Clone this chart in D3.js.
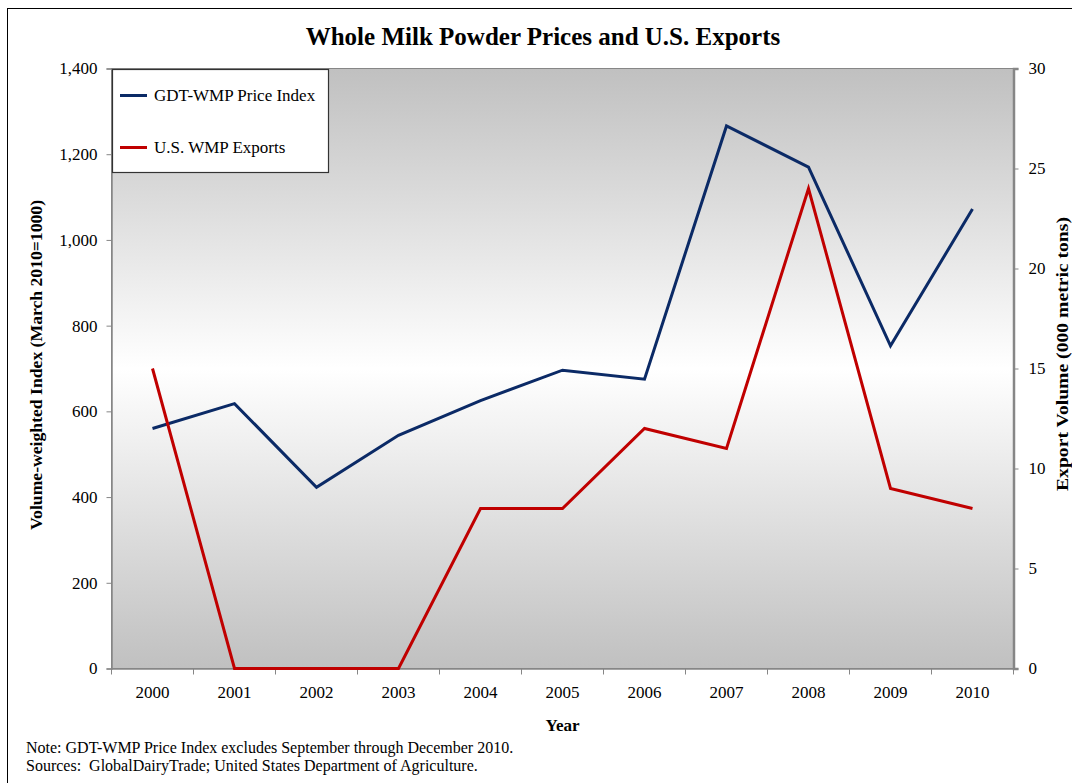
<!DOCTYPE html>
<html>
<head>
<meta charset="utf-8">
<script src="https://cdn.jsdelivr.net/npm/d3@7"></script>
<style>
  html, body { margin: 0; padding: 0; background: #fff; }
  svg { display: block; }
  text { font-family: "Liberation Serif", "Times New Roman", serif; fill: #000; }
</style>
</head>
<body>
<svg id="chart" width="1072" height="783"></svg>
<script>
// Annual values, 2000-2010
const years = ["2000","2001","2002","2003","2004","2005","2006","2007","2008","2009","2010"];
const priceIndex = [560, 618, 423, 544, 625, 696, 675, 1266, 1170, 753, 1072];
const exportVolume = [15, 0, 0, 0, 8, 8, 12, 11, 24, 9, 8];
const leftTicks = [0, 200, 400, 600, 800, 1000, 1200, 1400];
const rightTicks = [0, 5, 10, 15, 20, 25, 30];
const seriesNames = ["GDT-WMP Price Index", "U.S. WMP Exports"];

const svg = d3.select("#chart");
const plot = { left: 111.5, right: 1013.5, top: 68.5, bottom: 668.5 };
const serif = '"Liberation Serif", "Times New Roman", serif';

// Outer chart frame
svg.append("rect")
  .attr("x", 7.5).attr("y", 8.5).attr("width", 1080).attr("height", 800)
  .attr("fill", "#fff").attr("stroke", "#000").attr("stroke-width", 1);

// Plot background: grey at the edges, white through the middle
const defs = svg.append("defs");
const grad = defs.append("linearGradient").attr("id", "plotBg")
  .attr("x1", 0).attr("y1", 0).attr("x2", 0).attr("y2", 1);
grad.append("stop").attr("offset", "0%").attr("stop-color", "#c0c0c0");
grad.append("stop").attr("offset", "50%").attr("stop-color", "#ffffff");
grad.append("stop").attr("offset", "100%").attr("stop-color", "#c0c0c0");

svg.append("rect")
  .attr("x", plot.left).attr("y", plot.top)
  .attr("width", plot.right - plot.left).attr("height", plot.bottom - plot.top)
  .attr("fill", "url(#plotBg)").attr("stroke", "#868686").attr("stroke-width", 1);

// Scales
const x = d3.scaleBand().domain(years).range([plot.left, plot.right]).paddingInner(0).paddingOuter(0);
const yL = d3.scaleLinear().domain([0, 1400]).range([plot.bottom, plot.top]);
const yR = d3.scaleLinear().domain([0, 30]).range([plot.bottom, plot.top]);
const cx = d => x(d) + x.bandwidth() / 2;

// Left axis
const gL = svg.append("g").attr("transform", `translate(${plot.left},0)`)
  .call(d3.axisLeft(yL).tickValues(leftTicks).tickFormat(d3.format(",")).tickSize(5).tickPadding(9));
// Right axis
const gR = svg.append("g").attr("transform", `translate(${plot.right},0)`)
  .call(d3.axisRight(yR).tickValues(rightTicks).tickSize(5).tickPadding(10));
// Bottom axis: ticks at category boundaries, labels centred in each band
const gB = svg.append("g").attr("transform", `translate(0,${plot.bottom})`)
  .call(d3.axisBottom(x).tickSize(0).tickPadding(24));
gB.selectAll(".tick").append("line")
  .attr("x1", -x.bandwidth() / 2).attr("x2", -x.bandwidth() / 2)
  .attr("y1", 0).attr("y2", 6);
gB.append("line").attr("x1", plot.right).attr("x2", plot.right).attr("y1", 0).attr("y2", 6);

[gL, gR, gB].forEach(g => {
  g.attr("font-family", serif);
  g.selectAll("path.domain").attr("stroke", "#868686").attr("stroke-width", 1.5);
  g.selectAll("line").attr("stroke", "#868686").attr("stroke-width", 1);
  g.selectAll("text").style("font-family", serif)
    .style("font-size", "17px").attr("fill", "#000");
});
gR.select("path.domain").attr("stroke-width", 2.5);
gB.selectAll(".tick text").attr("dy", "0.35em");

// Series lines
const lineL = d3.line().x((d, i) => cx(years[i])).y(d => yL(d));
const lineR = d3.line().x((d, i) => cx(years[i])).y(d => yR(d));

svg.append("path").datum(priceIndex)
  .attr("d", lineL).attr("fill", "none")
  .attr("stroke", "#0b2a66").attr("stroke-width", 3).attr("stroke-linejoin", "miter");
svg.append("path").datum(exportVolume)
  .attr("d", lineR).attr("fill", "none")
  .attr("stroke", "#c00000").attr("stroke-width", 3).attr("stroke-linejoin", "miter");

// Legend
const legend = svg.append("g");
legend.append("rect")
  .attr("x", 112.5).attr("y", 69.5).attr("width", 216).attr("height", 103)
  .attr("fill", "#fff").attr("stroke", "#333").attr("stroke-width", 1.2);
const legendColors = ["#0b2a66", "#c00000"];
const legendY = [95.5, 147.5];
seriesNames.forEach((name, i) => {
  legend.append("line")
    .attr("x1", 120).attr("x2", 147).attr("y1", legendY[i]).attr("y2", legendY[i])
    .attr("stroke", legendColors[i]).attr("stroke-width", 3);
  legend.append("text")
    .attr("x", 154).attr("y", legendY[i] + 5.5)
    .style("font-size", "17px").text(name);
});

// Titles
svg.append("text")
  .attr("x", 543).attr("y", 45).attr("text-anchor", "middle")
  .style("font-size", "25px").style("font-weight", "bold")
  .text("Whole Milk Powder Prices and U.S. Exports");

svg.append("text")
  .attr("transform", "translate(42,365) rotate(-90)")
  .attr("text-anchor", "middle")
  .attr("textLength", 330).attr("lengthAdjust", "spacingAndGlyphs")
  .style("font-size", "16px").style("font-weight", "bold")
  .text("Volume-weighted Index (March 2010=1000)");

svg.append("text")
  .attr("transform", "translate(1068,354) rotate(-90)")
  .attr("text-anchor", "middle")
  .attr("textLength", 274).attr("lengthAdjust", "spacingAndGlyphs")
  .style("font-size", "16px").style("font-weight", "bold")
  .text("Export Volume (000 metric tons)");

svg.append("text")
  .attr("x", (plot.left + plot.right) / 2).attr("y", 731).attr("text-anchor", "middle")
  .style("font-size", "17px").style("font-weight", "bold")
  .text("Year");

// Notes
svg.append("text").attr("x", 26).attr("y", 752.5).style("font-size", "16px")
  .text("Note: GDT-WMP Price Index excludes September through December 2010.");
svg.append("text").attr("x", 26).attr("y", 770.5).style("font-size", "16px")
  .attr("xml:space", "preserve").style("white-space", "pre")
  .text("Sources:  GlobalDairyTrade; United States Department of Agriculture.");
</script>
</body>
</html>
